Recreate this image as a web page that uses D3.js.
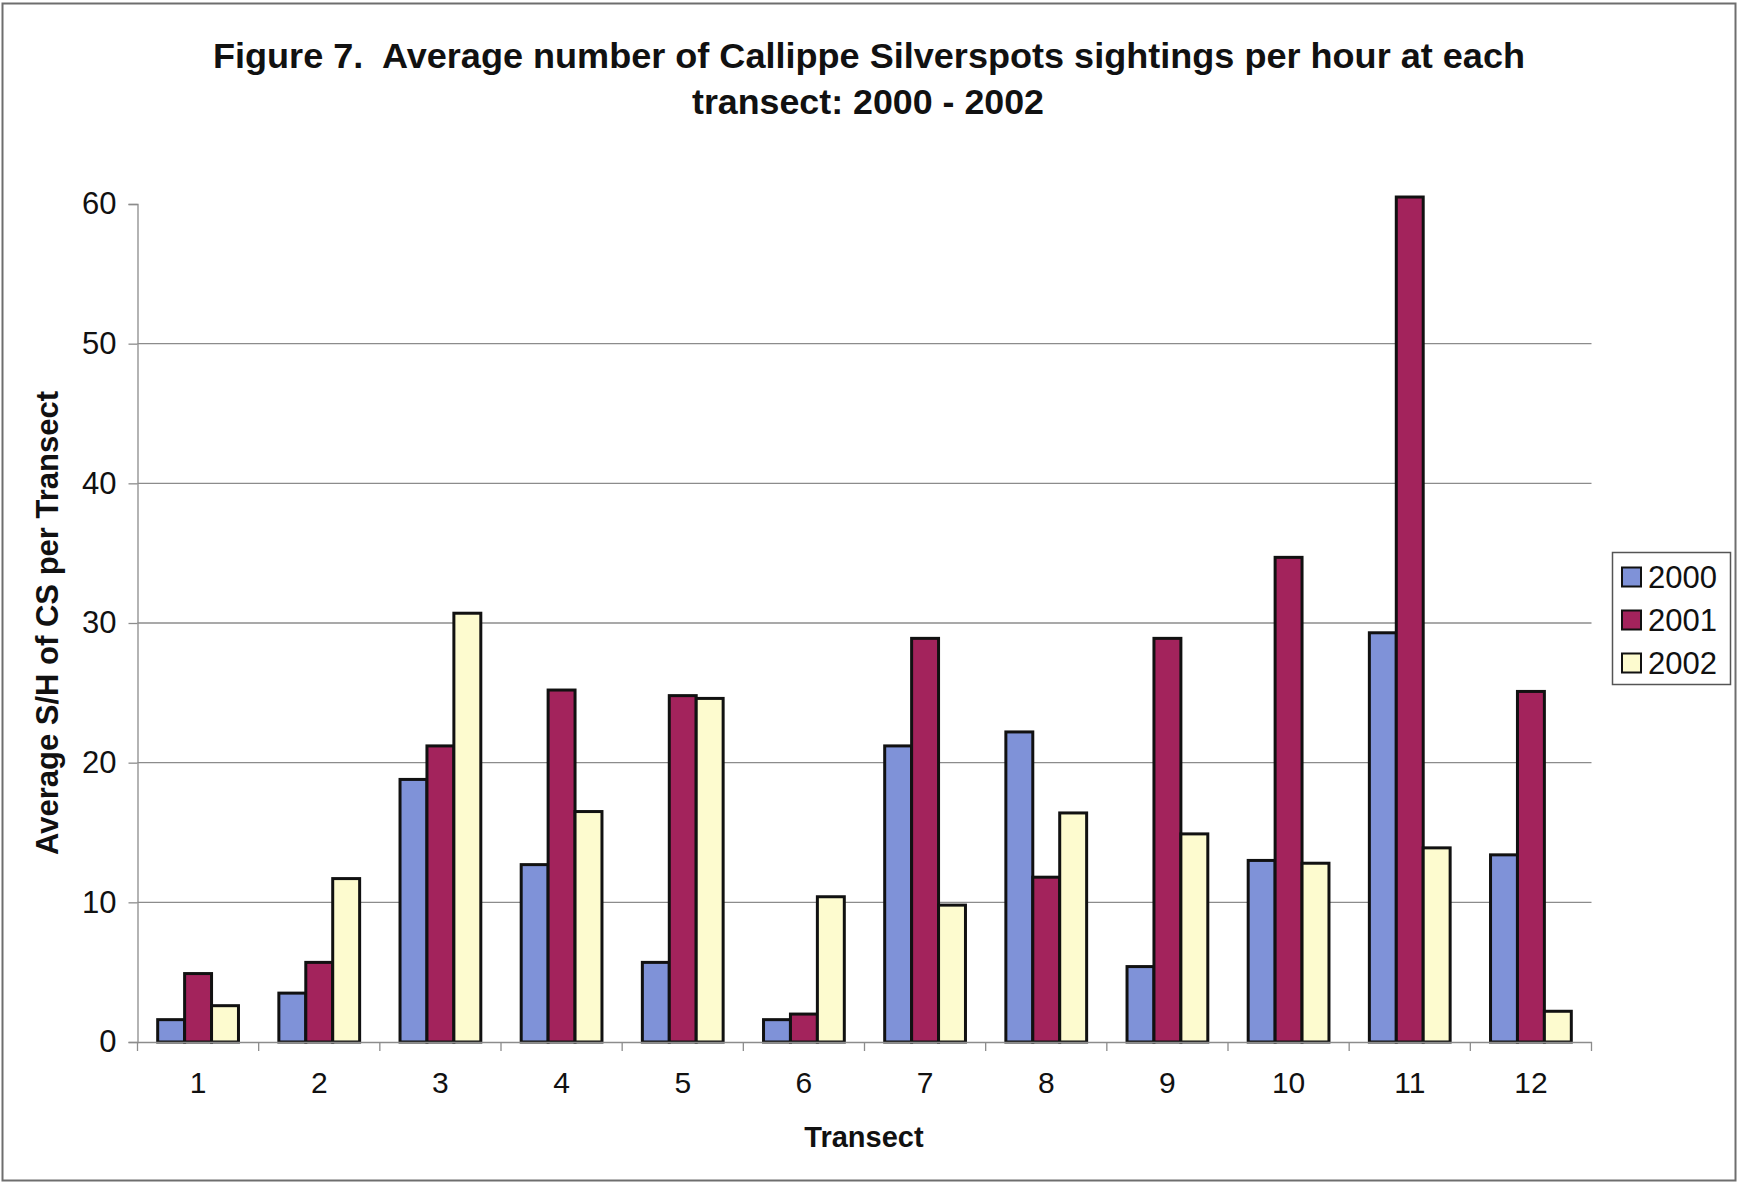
<!DOCTYPE html>
<html>
<head>
<meta charset="utf-8">
<script src="https://cdn.jsdelivr.net/npm/d3@7"></script>
<style>
  html, body { margin: 0; padding: 0; background: #fff; }
  svg { display: block; font-family: "Liberation Sans", Arial, sans-serif; }
  .keep-spaces { white-space: pre; }
</style>
</head>
<body>
<svg id="chart" width="1739" height="1184"></svg>
<script>
// Transects along the x axis
const transects = ["1", "2", "3", "4", "5", "6", "7", "8", "9", "10", "11", "12"];
// Survey years (one bar per year in each transect group)
const years = ["2000", "2001", "2002"];
// Average sightings per hour, one array per year
const values2000 = [1.6, 3.5, 18.8, 12.7, 5.7, 1.6, 21.2, 22.2, 5.4, 13.0, 29.3, 13.4];
const values2001 = [4.9, 5.7, 21.2, 25.2, 24.8, 2.0, 28.9, 11.8, 28.9, 34.7, 60.5, 25.1];
const values2002 = [2.6, 11.7, 30.7, 16.5, 24.6, 10.4, 9.8, 16.4, 14.9, 12.8, 13.9, 2.2];
// Y axis ticks
const yTicks = [0, 10, 20, 30, 40, 50, 60];

const seriesValues = [values2000, values2001, values2002];
const colors = ["#7f92d8", "#a3235c", "#fdfbcf"];

const svg = d3.select("#chart");

// outer chart frame
svg.append("rect")
  .attr("x", 2.5).attr("y", 3.5)
  .attr("width", 1733).attr("height", 1177)
  .attr("fill", "#fff")
  .attr("stroke", "#6e6e6e").attr("stroke-width", 2);

const plot = { left: 137.5, right: 1591.5, top: 204, bottom: 1042 };

const x0 = d3.scaleBand().domain(transects).range([plot.left, plot.right]).padding(0);
const x1 = d3.scaleBand().domain(years).range([0, x0.bandwidth()])
  .paddingInner(0).paddingOuter(0.75);
const y = d3.scaleLinear().domain([0, 60]).range([plot.bottom, plot.top]);

// horizontal gridlines
svg.append("g")
  .selectAll("line")
  .data(yTicks.filter(t => t > 0 && t < 60))
  .join("line")
  .attr("x1", plot.left).attr("x2", plot.right)
  .attr("y1", d => y(d)).attr("y2", d => y(d))
  .attr("stroke", "#8c8c8c").attr("stroke-width", 1.3);

// y axis
const yAxis = svg.append("g")
  .attr("transform", `translate(${plot.left},0)`)
  .call(d3.axisLeft(y).tickValues(yTicks).tickSize(9).tickPadding(12).tickFormat(d3.format("d")));
yAxis.select(".domain").attr("stroke", "#8c8c8c").attr("stroke-width", 1.3);
yAxis.selectAll(".tick line").attr("stroke", "#8c8c8c").attr("stroke-width", 1.3);
yAxis.selectAll(".tick text")
  .attr("font-size", 31).attr("fill", "#111")
  .attr("font-family", "Liberation Sans, Arial, sans-serif");

// bars
const groups = svg.append("g")
  .selectAll("g")
  .data(transects)
  .join("g")
  .attr("transform", d => `translate(${x0(d)},0)`);

groups.selectAll("rect")
  .data((d, i) => years.map((yr, s) => ({ year: yr, s, v: seriesValues[s][i] })))
  .join("rect")
  .attr("x", d => x1(d.year))
  .attr("width", x1.bandwidth())
  .attr("y", d => y(d.v))
  .attr("height", d => y(0) - y(d.v))
  .attr("fill", d => colors[d.s])
  .attr("stroke", "#111")
  .attr("stroke-width", 3);

// x axis
const xAxis = svg.append("g")
  .attr("transform", `translate(0,${plot.bottom})`)
  .call(d3.axisBottom(x0).tickSize(0).tickPadding(30));
xAxis.select(".domain").attr("stroke", "#8c8c8c").attr("stroke-width", 1.3);
xAxis.selectAll(".tick text")
  .attr("font-size", 30).attr("fill", "#111")
  .attr("font-family", "Liberation Sans, Arial, sans-serif");
// category separators below the axis line
svg.append("g")
  .selectAll("line")
  .data(d3.range(transects.length + 1))
  .join("line")
  .attr("x1", i => plot.left + i * x0.step())
  .attr("x2", i => plot.left + i * x0.step())
  .attr("y1", plot.bottom).attr("y2", plot.bottom + 9)
  .attr("stroke", "#8c8c8c").attr("stroke-width", 1.3);

// title
const title = svg.append("g")
  .attr("font-weight", "bold").attr("font-size", 35).attr("fill", "#111")
  .attr("text-anchor", "middle");
title.append("text").attr("class", "keep-spaces").attr("x", 869).attr("y", 68)
  .attr("textLength", 1312).attr("lengthAdjust", "spacingAndGlyphs")
  .text("Figure 7.  Average number of Callippe Silverspots sightings per hour at each");
title.append("text").attr("x", 868).attr("y", 114)
  .attr("textLength", 352).attr("lengthAdjust", "spacingAndGlyphs")
  .text("transect: 2000 - 2002");

// axis titles
svg.append("text")
  .attr("transform", "translate(58,623) rotate(-90)")
  .attr("text-anchor", "middle")
  .attr("font-weight", "bold").attr("font-size", 31).attr("fill", "#111")
  .text("Average S/H of CS per Transect");

svg.append("text")
  .attr("x", 864).attr("y", 1147)
  .attr("text-anchor", "middle")
  .attr("font-weight", "bold").attr("font-size", 29).attr("fill", "#111")
  .text("Transect");

// legend
const legend = svg.append("g");
legend.append("rect")
  .attr("x", 1612.5).attr("y", 552.5).attr("width", 118).attr("height", 132)
  .attr("fill", "#fff").attr("stroke", "#555").attr("stroke-width", 1.5);
const items = legend.selectAll("g.item")
  .data(years)
  .join("g")
  .attr("class", "item")
  .attr("transform", (d, i) => `translate(1622,${577 + i * 43})`);
items.append("rect")
  .attr("x", 0).attr("y", -9.5).attr("width", 19).attr("height", 19)
  .attr("fill", (d, i) => colors[i])
  .attr("stroke", "#111").attr("stroke-width", 2);
items.append("text")
  .attr("x", 26).attr("y", 11)
  .attr("font-size", 31).attr("fill", "#111")
  .text(d => d);
</script>
</body>
</html>
